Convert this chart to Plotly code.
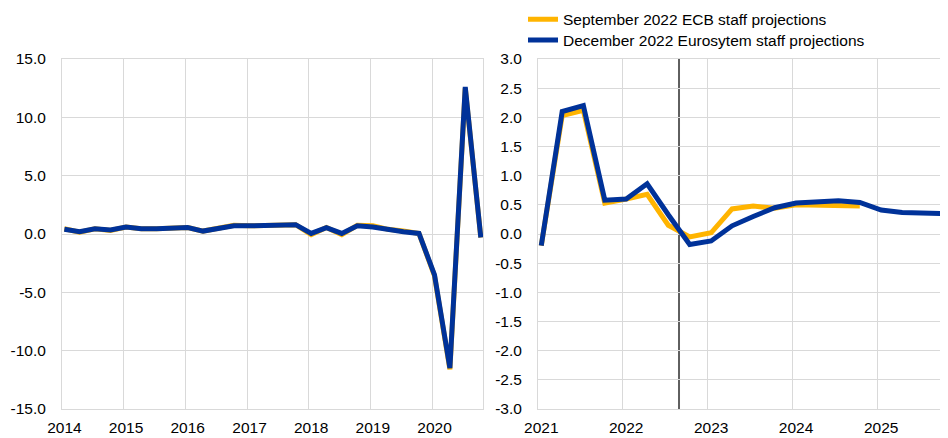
import plotly.graph_objects as go

# quarterly data, points placed mid first month of each quarter
HIST_YEARS = list(range(2014, 2021))
PROJ_YEARS = list(range(2021, 2026))

# left panel: 2014Q1 - 2020Q4
hist_sep = [0.45, 0.15, 0.45, 0.3, 0.6, 0.45, 0.45, 0.45, 0.55, 0.25, 0.45, 0.75, 0.7, 0.75,
            0.8, 0.8, -0.05, 0.55, -0.05, 0.75, 0.7, 0.4, 0.25, 0.05, -3.6, -11.6, 12.5, -0.3]
hist_dec = [0.4, 0.2, 0.45, 0.35, 0.6, 0.45, 0.45, 0.45, 0.55, 0.25, 0.45, 0.7, 0.7, 0.75,
            0.8, 0.8, 0.05, 0.55, 0.05, 0.7, 0.6, 0.35, 0.2, 0.05, -3.5, -11.5, 12.6, -0.3]

# right panel: 2021Q1 - 2024Q4 (September), 2021Q1 - 2025Q4 (December)
proj_sep = [-0.2, 2.03, 2.12, 0.53, 0.6, 0.68, 0.15, -0.05, 0.02, 0.43, 0.48, 0.44,
            0.5, 0.5, 0.5, 0.48]
proj_dec = [-0.2, 2.1, 2.2, 0.58, 0.6, 0.86, 0.33, -0.18, -0.12, 0.14, 0.3, 0.45,
            0.53, 0.56, 0.57, 0.54, 0.41, 0.37, 0.37, 0.35]

left_yticks = [-15, -10, -5, 0, 5, 10, 15]
right_yticks = [-3.0, -2.5, -2.0, -1.5, -1.0, -0.5, 0.0, 0.5, 1.0, 1.5, 2.0, 2.5, 3.0]

names = ["September 2022 ECB staff projections", "December 2022 Eurosytem staff projections"]
colors = ["#ffb400", "#003299"]
cutoff = "2022-08-30"


def quarter_dates(years):
    return [f"{y}-{m:02d}-15" for y in years for m in (1, 4, 7, 10)]


hist_x = quarter_dates(HIST_YEARS)
proj_x = quarter_dates(PROJ_YEARS)

GRID = "#d9d9d9"
FONT = dict(family="Arial, Liberation Sans, sans-serif", size=15.5, color="#000000")

# page body has an 8px margin, so the figure is 8px smaller on each side
W, H = 940, 430

fig = go.Figure()

for vals, name, color in zip([hist_sep, hist_dec], names, colors):
    fig.add_trace(go.Scatter(x=hist_x[:len(vals)], y=vals, mode="lines", name=name,
                             line=dict(color=color, width=5), showlegend=False,
                             xaxis="x", yaxis="y"))

for vals, name, color, leg in zip([proj_sep, proj_dec], names, colors, ["legend", "legend2"]):
    fig.add_trace(go.Scatter(x=proj_x[:len(vals)], y=vals, mode="lines", name=name,
                             line=dict(color=color, width=5), showlegend=True,
                             legend=leg, xaxis="x2", yaxis="y2"))


def xaxis(domain, years, end, anchor):
    return dict(
        domain=domain, anchor=anchor, type="date",
        range=[f"{years[0]}-01-01", end],
        tickmode="array", tickvals=[f"{y}-01-15" for y in years],
        ticktext=[str(y) for y in years], showgrid=False, ticks="",
        ticklabelstandoff=4,
        minor=dict(tickmode="linear", tick0=f"{years[0]}-01-01", dtick="M12",
                   showgrid=True, gridcolor=GRID, gridwidth=1),
        showline=True, linecolor=GRID, linewidth=1, mirror=True,
        zeroline=False, automargin=False, tickfont=FONT,
    )


def yaxis(domain, ticks, anchor):
    return dict(
        domain=domain, anchor=anchor, range=[ticks[0], ticks[-1]],
        tickmode="array", tickvals=ticks, ticktext=[f"{v:.1f}" for v in ticks],
        showgrid=True, gridcolor=GRID, gridwidth=1, zeroline=False, ticks="",
        ticklabelstandoff=12,
        showline=True, linecolor=GRID, linewidth=1, mirror=True,
        automargin=False, tickfont=FONT,
    )


def legend(top_px):
    return dict(x=515 / W, y=1 - top_px / H, xanchor="left", yanchor="top",
                orientation="v", bgcolor="rgba(0,0,0,0)", font=FONT,
                itemwidth=30, tracegroupgap=0)


ydom = [(H - 401) / H, (H - 51) / H]

fig.update_layout(
    width=W, height=H,
    margin=dict(l=0, r=0, t=0, b=0, autoexpand=False),
    paper_bgcolor="white", plot_bgcolor="white",
    font=FONT,
    xaxis=xaxis([54 / W, 475 / W], HIST_YEARS, "2020-10-28", "y"),
    yaxis=yaxis(ydom, left_yticks, "x"),
    xaxis2=xaxis([530 / W, 1.0], PROJ_YEARS, "2025-10-29", "y2"),
    yaxis2=yaxis(ydom, right_yticks, "x2"),
    legend=legend(-5.3),
    legend2=legend(15.3),
    shapes=[dict(type="line", xref="x2", yref="y2", x0=cutoff, x1=cutoff, y0=-3, y1=3,
                 line=dict(color="#5f5f5f", width=2), layer="below")],
)

fig.write_html("out.html")
